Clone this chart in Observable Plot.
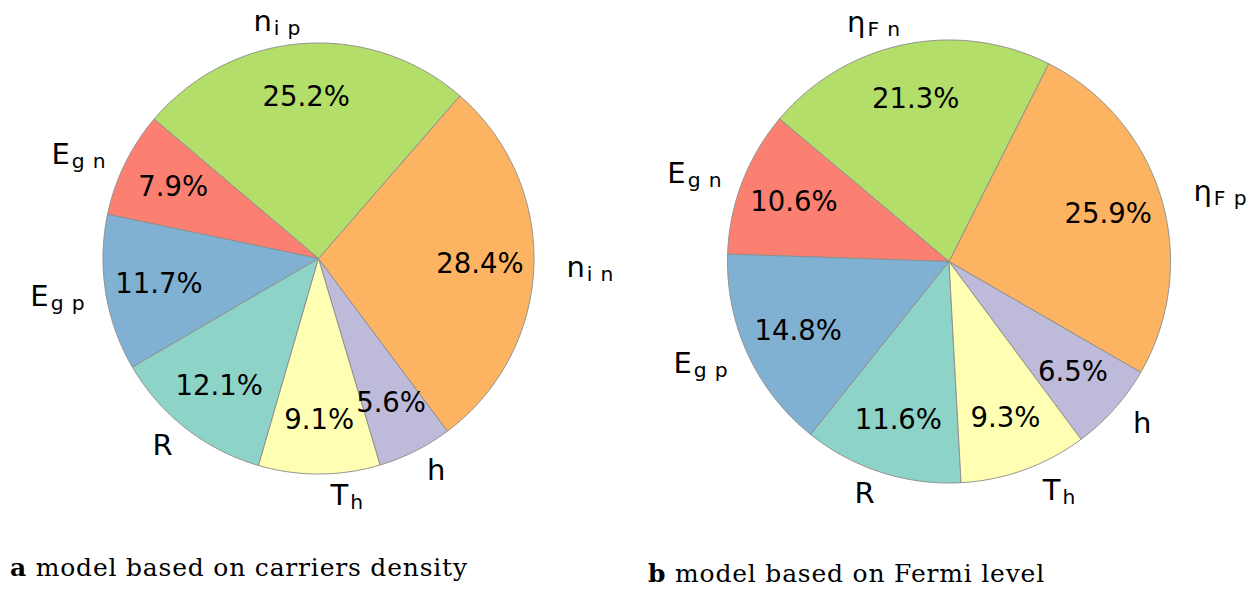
<!DOCTYPE html>
<html><head><meta charset="utf-8">
<script src="https://cdn.jsdelivr.net/npm/d3@7"></script>
<script src="https://cdn.jsdelivr.net/npm/@observablehq/plot@0.6"></script>
<style>
body{margin:0;background:#fff;}
#wrap{position:relative;width:1258px;height:592px;overflow:hidden;background:#fff}
.panel{position:absolute;top:0}
.cap{position:absolute;font-family:"DejaVu Serif";font-size:25px;letter-spacing:0.8px;white-space:nowrap;color:#000;line-height:1}
</style></head><body><div id="wrap"></div>
<script>
// ---- data ----
const labelsA = ["h", "n|i n", "n|i p", "E|g n", "E|g p", "R", "T|h"];
const valuesA = [5.6, 28.4, 25.2, 7.9, 11.7, 12.1, 9.1];
const labelsB = ["h", "η|F p", "η|F n", "E|g n", "E|g p", "R", "T|h"];
const valuesB = [6.5, 25.9, 21.3, 10.6, 14.8, 11.6, 9.3];
const sliceColors = ["#bebada", "#fdb462", "#b3de69", "#fb8072", "#80b1d3", "#8dd3c7", "#ffffb3"];
const captionA = ["a", " model based on carriers density"];
const captionB = ["b", " model based on Fermi level"];

// ---- layout config ----
const PW = 629, PH = 540;
const cfgA = {start: -73.4, cx: 318, cy: 258, r: 215.5, left: 0};
const cfgB = {start: -53.4, cx: 319.5, cy: 261, r: 221.5, left: 629};
const PCT_DIST = 0.75, LAB_DIST = 1.1;

function pieRows(labels, values, start) {
  const rows = [];
  let acc = start;
  labels.forEach((lab, i) => {
    const a0 = acc, a1 = acc + values[i] * 3.6;
    acc = a1;
    const n = Math.max(4, Math.ceil((a1 - a0) / 0.5));
    rows.push({slice: lab, x: 0, y: 0});
    for (let k = 0; k <= n; k++) {
      const a = (a0 + (a1 - a0) * k / n) * Math.PI / 180;
      rows.push({slice: lab, x: Math.cos(a), y: Math.sin(a)});
    }
    rows.push({slice: lab, x: 0, y: 0});
  });
  return rows;
}
function labelRows(labels, values, start) {
  let acc = start;
  return labels.map((lab, i) => {
    const a0 = acc, a1 = acc + values[i] * 3.6;
    acc = a1;
    const m = (a0 + a1) / 2 * Math.PI / 180;
    return {label: lab, pct: values[i].toFixed(1) + "%",
      px: PCT_DIST * Math.cos(m), py: PCT_DIST * Math.sin(m),
      lx: LAB_DIST * Math.cos(m), ly: LAB_DIST * Math.sin(m),
      side: Math.cos(m) >= 0 ? 1 : -1, sub: lab.includes("|")};
  });
}

function pie(labels, values, cfg) {
  const rows = pieRows(labels, values, cfg.start);
  const labs = labelRows(labels, values, cfg.start);
  const font = {fontFamily: "DejaVu Sans", fill: "#000"};
  const svg = Plot.plot({
    width: PW, height: PH, margin: 0,
    x: {domain: [-cfg.cx / cfg.r, (PW - cfg.cx) / cfg.r], axis: null},
    y: {domain: [-(PH - cfg.cy) / cfg.r, cfg.cy / cfg.r], axis: null},
    color: {domain: labels, range: sliceColors},
    marks: [
      Plot.line(rows, {x: "x", y: "y", z: "slice", fill: "slice", stroke: "#909090", strokeWidth: 1, strokeLinejoin: "round", curve: "linear"}),
      Plot.text(labs, {x: "px", y: "py", text: "pct", fontSize: 27.5, ...font}),
      Plot.text(labs.filter(d => d.side > 0 && d.sub), {x: "lx", y: "ly", text: "label", textAnchor: "start", dx: 11, fontSize: 29, ...font}),
      Plot.text(labs.filter(d => d.side > 0 && !d.sub), {x: "lx", y: "ly", text: "label", textAnchor: "start", dx: 2, fontSize: 29, ...font}),
      Plot.text(labs.filter(d => d.side < 0), {x: "lx", y: "ly", text: "label", textAnchor: "end", fontSize: 29, ...font})
    ]
  });
  // subscripts
  d3.select(svg).selectAll("text").each(function() {
    const t = this.textContent;
    if (!t.includes("|")) return;
    const [main, sub] = t.split("|");
    const el = d3.select(this);
    el.text(null);
    el.append("tspan").text(main);
    el.append("tspan").attr("font-size", "0.7em").attr("dy", "4").attr("dx", "2").text(sub.replace(" ", "\u2009\u2009"));
  });
  svg.classList.add("panel");
  svg.style.left = cfg.left + "px";
  return svg;
}

const wrap = document.getElementById("wrap");
wrap.appendChild(pie(labelsA, valuesA, cfgA));
wrap.appendChild(pie(labelsB, valuesB, cfgB));

function caption(parts, left, top) {
  const d = document.createElement("div");
  d.className = "cap";
  d.style.left = left + "px";
  d.style.top = top + "px";
  const b = document.createElement("b");
  b.textContent = parts[0];
  d.appendChild(b);
  d.appendChild(document.createTextNode(parts[1]));
  wrap.appendChild(d);
}
caption(captionA, 10, 555);
caption(captionB, 648, 561);
</script></body></html>
